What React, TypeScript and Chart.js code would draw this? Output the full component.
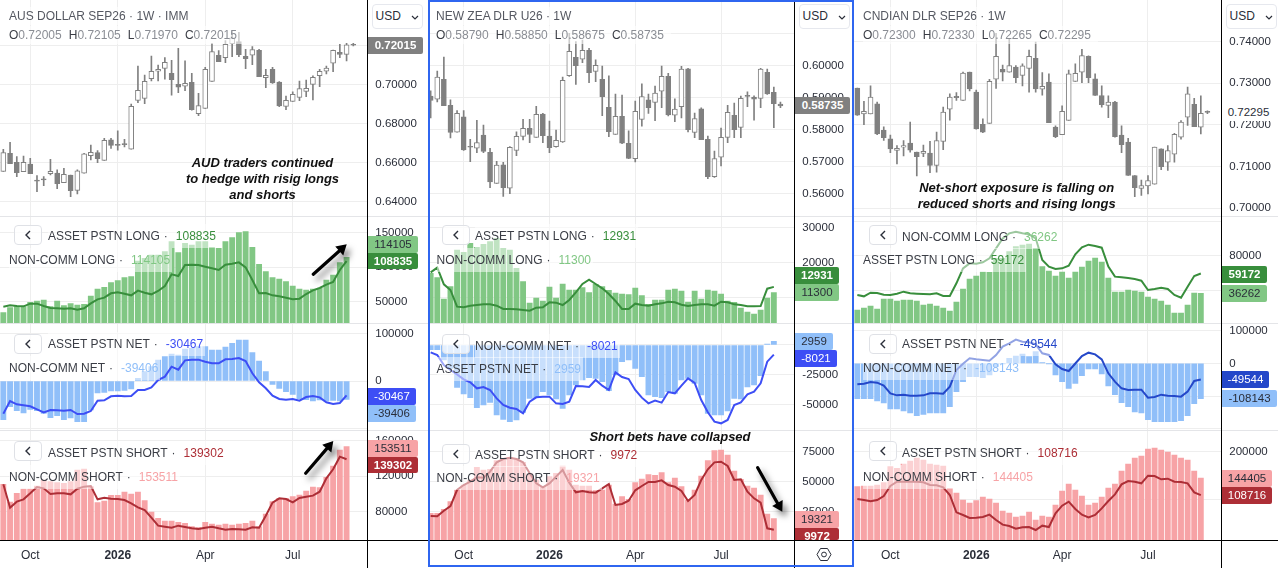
import { useEffect, useRef } from "react";
import { Chart, registerables } from "chart.js";

Chart.register(...registerables);

const FONT = '"Liberation Sans", Arial, sans-serif';

const weeks = Array.from({ length: 54 }, (_, i) => i);
const dateNames = ["Oct", "2026", "Apr", "Jul"];
const audDateTicks = [4, 17, 30, 43];
const otherDateTicks = [5, 18, 31, 44];

// AUS DOLLAR
const audOpen = [.6554,.6646,.6600,.6552,.6591,.6505,.6511,.6542,.6545,.6496,.6535,.6456,.6544,.6634,.6650,.6610,.6715,.6688,.6692,.6667,.6918,.6928,.7029,.7067,.7082,.7056,.7000,.6990,.7010,.6850,.6877,.7015,.7149,.7137,.7209,.7219,.7144,.7149,.7174,.7034,.7077,.7012,.6887,.6913,.6933,.6964,.7000,.7044,.7067,.7108,.7164,.7154,.72005];
const audHigh = [.6667,.6703,.6629,.6632,.6620,.6532,.6527,.6615,.6561,.6569,.6535,.6561,.6646,.6689,.6660,.6723,.6723,.6761,.6718,.6899,.7094,.7048,.7145,.7099,.7137,.7123,.7185,.7120,.7056,.6954,.7087,.7210,.7173,.7224,.7270,.7267,.7180,.7193,.7180,.7077,.7087,.7014,.6940,.6962,.7017,.7022,.7043,.7077,.7094,.7176,.7205,.7210,.72105];
const audLow = [.6554,.6593,.6526,.6552,.6542,.6450,.6480,.6535,.6465,.6496,.6424,.6438,.6544,.6612,.6598,.6610,.6672,.6663,.6679,.6667,.6906,.6901,.7017,.7017,.7027,.6945,.6957,.6968,.6867,.6839,.6877,.7015,.7116,.7111,.7142,.7142,.7080,.7101,.7039,.6983,.7005,.6885,.6870,.6913,.6916,.6937,.6920,.6988,.7053,.7065,.7137,.7120,.71970];
const audClose = [.6650,.6593,.6547,.6600,.6542,.6504,.6510,.6554,.6491,.6538,.6455,.6556,.6643,.6651,.6619,.6713,.6687,.6687,.6691,.6887,.6969,.7015,.7067,.7077,.7113,.7024,.6985,.7005,.6870,.6891,.7077,.7168,.7116,.7205,.7239,.7152,.7132,.7178,.7039,.7046,.7007,.6889,.6918,.6949,.6978,.6980,.7036,.7067,.7084,.7174,.7154,.7202,.72015];
const audLongBars = [34060,41300,42750,42750,49030,50970,52420,42750,50970,44200,47100,45170,46140,58210,68350,70770,77530,80430,84780,86230,108930,112790,117620,117620,122450,136940,121000,134530,132110,136940,136940,128730,127280,136940,142740,149980,151430,128730,104100,93470,84780,82840,78980,72700,68350,66900,68350,69320,81400,88640,106510,114105];
const audLongLine = [42750,44690,43720,43240,47100,47100,43720,40820,40340,39860,40340,38410,40340,47590,53380,55800,62080,63520,61590,59180,65940,63040,60630,65460,72700,89610,87190,103130,103610,103130,100720,98300,95890,103610,105060,106990,99750,81400,62080,62560,59180,57730,55800,53380,54350,61110,66420,69800,74630,78500,95890,108835];
const audNetBars = [-82240,-54590,-63100,-68060,-60260,-63100,-68770,-77990,-73740,-82240,-78700,-86500,-86500,-61680,-25520,-24110,-21270,-21270,-19850,-17020,5670,19850,30490,44670,51760,57430,55300,68060,69480,73030,73030,65940,65940,72320,80120,87210,87210,60270,42540,19850,-7090,-15600,-22690,-28360,-38290,-39700,-42540,-40410,-42540,-41120,-42540,-39406];
const audNetLine = [-69480,-42540,-49630,-51760,-53880,-60260,-66650,-61680,-62390,-63100,-61680,-70190,-69480,-63810,-41830,-41120,-32610,-31200,-32610,-31900,-19140,-19140,-13470,2130,9220,30490,24110,43960,45380,45380,41120,37580,37580,46090,46790,48920,42540,16310,-2840,-15600,-31200,-38290,-39700,-38290,-41830,-34030,-31900,-34740,-45380,-48920,-46790,-30467];
const audShortBars = [110910,90930,100740,105640,105640,109030,115820,113930,112800,112050,113930,127130,128260,108280,90180,92060,98470,98470,102240,99980,102240,92440,79620,72460,69440,69440,67940,66800,63040,61900,67940,66050,64920,66050,64920,66050,66800,69440,63040,77360,91310,95080,95080,96970,98850,103370,107900,107140,118830,131650,149750,153511];
const audShortLine = [110910,84520,91310,93950,100740,107900,106390,99980,100740,100740,99600,106010,108280,109030,93950,95830,94700,94330,93200,89430,84900,81890,73210,64170,63040,61900,64170,62660,61150,60400,61900,63040,61150,59640,60400,60020,59640,62280,61900,75480,90180,95080,94330,90560,95460,96970,98100,102620,117700,127880,142210,139302];

// NEW ZEA DLR
const nzdOpen = [.5904,.5894,.5956,.5875,.5791,.5839,.5745,.5741,.5782,.5728,.5631,.5689,.5616,.5734,.5778,.5803,.5775,.5848,.5779,.5746,.5761,.5968,.6025,.6019,.6047,.5981,.5956,.5869,.5784,.5841,.5756,.5708,.5831,.5892,.5884,.5919,.5966,.5844,.5871,.5989,.5790,.5864,.5769,.5652,.5713,.5775,.5844,.5806,.5904,.5901,.5897,.5978,.5916,.58790];
const nzdHigh = [.5920,.5982,.6026,.5892,.5859,.5859,.5769,.5828,.5813,.5741,.5700,.5697,.5746,.5792,.5831,.5831,.5872,.5850,.5826,.5798,.5963,.6100,.6074,.6079,.6053,.6017,.5998,.5967,.5910,.5907,.5795,.5888,.5942,.5910,.5935,.5998,.5975,.5895,.5997,.5991,.5851,.5867,.5779,.5732,.5804,.5875,.5882,.5904,.5917,.5905,.5991,.5988,.5932,.58850];
const nzdLow = [.5836,.5886,.5874,.5773,.5791,.5734,.5699,.5727,.5727,.5618,.5631,.5590,.5599,.5718,.5767,.5758,.5775,.5758,.5727,.5744,.5759,.5965,.5940,.6008,.5946,.5949,.5843,.5777,.5784,.5755,.5708,.5698,.5810,.5850,.5827,.5868,.5842,.5824,.5836,.5792,.5774,.5768,.5646,.5650,.5686,.5758,.5774,.5774,.5871,.5829,.5868,.5909,.5805,.58675];
const nzdClose = [.5890,.5963,.5874,.5790,.5850,.5736,.5744,.5759,.5731,.5636,.5688,.5618,.5744,.5778,.5803,.5784,.5847,.5780,.5743,.5766,.5953,.6044,.5999,.6047,.5977,.6000,.5902,.5793,.5841,.5757,.5709,.5856,.5902,.5868,.5913,.5966,.5845,.5863,.5988,.5799,.5834,.5768,.5652,.5709,.5775,.5853,.5799,.5897,.5903,.5894,.5988,.5911,.5880,.58735];
const nzdLongBars = [16830,15580,9420,12980,23560,22880,25480,24330,25190,25960,26920,24040,23560,18270,14420,8270,9710,8850,12880,9710,13750,12020,12020,12690,11250,13650,12980,11920,11150,10870,10670,12600,10380,7890,9130,9130,12020,12310,11730,8560,11730,9420,12020,11730,10870,8850,8460,6830,5670,5100,6250,9710,11300];
const nzdLongLine = [17120,18460,13650,12020,7210,7020,7500,7690,7880,7880,7500,6540,6540,6440,6250,6060,6920,7020,8460,8370,7690,9130,11350,13750,15000,13750,12500,10870,8850,6540,6540,8080,7690,7500,7880,8170,8650,8460,7790,7400,7690,7880,7880,7500,8650,8460,7880,7690,7310,7310,7400,12400,12931];
const nzdNetBars = [-3890,-3890,-12500,-19450,-35280,-40840,-43890,-52230,-50000,-47780,-58340,-61950,-63890,-62510,-56120,-44450,-43890,-38890,-41670,-45000,-52780,-41670,-33340,-29170,-27220,-27780,-30560,-38060,-25000,-13890,-12500,-19450,-26390,-41670,-43060,-43890,-38890,-40280,-29170,-27780,-31950,-41670,-56950,-58340,-58340,-55000,-44450,-45000,-35000,-33340,-25560,830,2959];
const nzdNetLine = [-6110,-8330,-16670,-20840,-24450,-28610,-31110,-36110,-35000,-37500,-44450,-50000,-52230,-53340,-56950,-47230,-43610,-43060,-43060,-48610,-49170,-47230,-34170,-34450,-35000,-29170,-33890,-37500,-22780,-26670,-28340,-37500,-43890,-48610,-46390,-48060,-39170,-40280,-33890,-27780,-31670,-45840,-56120,-63890,-65280,-62510,-50000,-47780,-41110,-38890,-31950,-13890,-8021];
const nzdShortBars = [23610,23610,26940,33330,43060,47220,51390,61950,59730,60280,67500,68060,70280,69450,66110,56950,51390,45840,54170,56950,63060,59730,47220,46390,46390,42500,43060,47220,31390,37500,35280,49170,52220,55840,55280,57500,49170,53060,45840,34720,43060,54720,67500,75840,76390,72230,58890,51950,46390,44720,38890,23060,19321];
const nzdShortLine = [21390,21110,25830,29720,43060,47220,50000,53610,53340,58340,66110,68890,70000,68890,66110,56950,48610,45280,48610,54170,59730,49170,41110,42220,41110,40830,44450,48060,30560,31390,34170,42780,46390,49720,49720,51110,47220,45840,42220,33890,38890,51390,60280,66110,66670,63060,51390,51950,41670,36110,32500,11110,9972];

// CNDIAN DLR
const cadOpen = [.7288,.7226,.7226,.7250,.7187,.7166,.7138,.7146,.7156,.7134,.7131,.7132,.7102,.7160,.7237,.7268,.7258,.7326,.7278,.7201,.7203,.7309,.7333,.7326,.7338,.7318,.7335,.7359,.7285,.7302,.7194,.7176,.7210,.7304,.7326,.7364,.7310,.7270,.7246,.7254,.7175,.7158,.7078,.7047,.7053,.7057,.7142,.7110,.7129,.7170,.7218,.7249,.7194,.72300];
const cadHigh = [.7288,.7256,.7293,.7254,.7195,.7175,.7150,.7162,.7206,.7134,.7151,.7160,.7182,.7242,.7274,.7277,.7326,.7326,.7283,.7214,.7309,.7419,.7343,.7405,.7342,.7346,.7379,.7398,.7325,.7322,.7197,.7245,.7331,.7346,.7381,.7365,.7322,.7293,.7269,.7256,.7197,.7167,.7078,.7067,.7078,.7146,.7142,.7150,.7179,.7210,.7290,.7263,.7269,.72330];
const cadLow = [.7222,.7200,.7226,.7176,.7162,.7133,.7106,.7125,.7134,.7077,.7123,.7085,.7086,.7140,.7211,.7258,.7258,.7281,.7189,.7181,.7203,.7287,.7305,.7326,.7301,.7293,.7278,.7278,.7271,.7205,.7169,.7176,.7210,.7304,.7301,.7301,.7270,.7242,.7217,.7170,.7133,.7078,.7027,.7030,.7034,.7057,.7092,.7090,.7110,.7165,.7198,.7195,.7178,.72265];
const cadClose = [.7223,.7232,.7266,.7178,.7169,.7142,.7143,.7150,.7139,.7123,.7136,.7102,.7162,.7230,.7266,.7265,.7324,.7286,.7190,.7182,.7304,.7364,.7326,.7342,.7313,.7341,.7364,.7286,.7292,.7205,.7171,.7232,.7322,.7323,.7366,.7313,.7270,.7248,.7254,.7171,.7152,.7078,.7049,.7054,.7066,.7146,.7099,.7138,.7177,.7206,.7274,.7195,.7227,.72295];
const cadLongBars = [16760,19080,21410,17920,29560,29560,27230,28400,28400,27230,22580,23740,21410,19080,15590,26070,41200,52840,56330,60990,60600,76900,76900,84660,90480,92420,93580,88540,67200,62150,56330,60990,54000,60990,66810,73790,77280,72630,54000,37710,37710,40040,38870,37710,31890,29560,27230,22580,13260,13260,22580,36540,36262];
const cadLongLine = [34220,32660,36930,36540,34600,34220,35770,38100,36160,35770,35380,34990,36160,33050,33050,47800,65260,71080,70690,72240,76900,88540,100180,106000,107940,106000,104830,100180,74960,67200,64480,65260,68360,81550,89700,92800,91250,89310,67200,55560,54780,54000,52840,50900,40040,41200,42750,41200,34220,31110,43920,56330,59172];
const cadNetBars = [-108120,-108120,-108120,-115260,-121380,-139740,-139740,-145860,-151980,-160140,-156060,-151980,-151980,-151980,-132600,-86700,-56100,-40800,-40800,-43860,-35700,-10200,-1000,15300,22440,28560,20400,35700,2040,-500,-35700,-56100,-76500,-61200,-37740,-17340,-17340,-32640,-69360,-95880,-120360,-132600,-148920,-151980,-172380,-178500,-178500,-178500,-178500,-175440,-160140,-123420,-108143];
const cadNetLine = [-64260,-62220,-57120,-59160,-68340,-91800,-97920,-95880,-98940,-98940,-97920,-91800,-91800,-92820,-71400,-20400,-1000,15300,12240,10200,8160,25500,51000,61200,72420,66300,64260,58140,30600,25500,-3060,-17340,-23460,-500,22440,32640,27540,12240,-30600,-56100,-76500,-81600,-80580,-80580,-105060,-103020,-95880,-98940,-99960,-102000,-86700,-54060,-49544];
const cadShortBars = [126500,127900,127900,130000,134900,168500,165000,174100,180400,186700,182500,174100,172000,169900,123000,113200,98500,92200,97100,104800,100600,92200,75400,71200,62800,64900,73300,56500,64900,62800,88000,117400,132100,119500,106900,88000,92200,104800,123700,132100,159400,174100,186700,190900,205600,207700,203500,199300,193000,186700,182500,159400,144405];
const cadShortLine = [100600,98500,95700,98500,106900,127900,137000,137000,137000,137000,135600,130000,129300,125100,109000,72600,67000,60700,61400,62800,67700,56500,46700,43900,38300,41100,41800,35500,44600,41800,70500,86600,95000,79600,67700,62100,67000,81000,96400,110400,131400,138400,137000,133500,149600,148900,141900,143300,137000,136300,133500,114600,108716];

const CANDLE = "#808080";
const GREEN_BAR = "#81c784";
const GREEN_LINE = "#388e3c";
const BLUE_BAR = "#90bff9";
const BLUE_LINE = "#3d4ef5";
const DEEP_BLUE = "#2447c9";
const RED_BAR = "#f7a3a6";
const RED_LINE = "#ad2e36";
const GRID = "#eeeeee";
const TEXT = "#3a3d45";

const candleSets = (open: number[], high: number[], low: number[], close: number[]) => [
  {
    type: "bar",
    data: low.map((l, i) => [l, high[i]]),
    backgroundColor: CANDLE,
    barThickness: 1,
    grouped: false,
    order: 2,
  },
  {
    type: "bar",
    data: open.map((o, i) => [o, close[i]]),
    backgroundColor: open.map((o, i) => (close[i] - o > 0.0003 ? "#ffffff" : CANDLE)),
    borderColor: CANDLE,
    borderWidth: 1,
    borderSkipped: false,
    barThickness: 5,
    minBarLength: 1,
    grouped: false,
    order: 1,
  },
];

const studySets = (bars: number[], line: number[], barColor: string, lineColor: string) => [
  {
    type: "line",
    data: line,
    borderColor: lineColor,
    borderWidth: 2,
    pointRadius: 0,
    tension: 0,
    order: 0,
  },
  {
    type: "bar",
    data: bars,
    backgroundColor: barColor,
    barThickness: 5.2,
    order: 1,
  },
];

interface PaneProps {
  left: number;
  top: number;
  width: number;
  height: number;
  axisWidth: number;
  xMin: number;
  xMax: number;
  yMin: number;
  yMax: number;
  yTicks: number[];
  hidden?: number[];
  digits?: number;
  dateTicks: number[];
  showDates?: boolean;
  datasets: any[];
}

const Pane = (props: PaneProps) => {
  const chartRef = useRef<HTMLCanvasElement | null>(null);
  const { left, top, width, height } = props;

  useEffect(() => {
    if (!chartRef.current) return;
    const { axisWidth, xMin, xMax, yMin, yMax, yTicks, hidden = [], digits = 0, dateTicks, showDates, datasets } = props;
    const chart = new Chart(chartRef.current, {
      data: { labels: weeks, datasets },
      options: {
        animation: false,
        responsive: false,
        maintainAspectRatio: false,
        layout: { padding: 0 },
        plugins: { legend: { display: false }, tooltip: { enabled: false } },
        scales: {
          x: {
            type: "linear",
            offset: false,
            min: xMin,
            max: xMax,
            afterBuildTicks: (axis: any) => {
              axis.ticks = dateTicks.map((value) => ({ value }));
            },
            afterFit: (axis: any) => {
              axis.height = showDates ? 28 : 0;
              axis.paddingLeft = 0;
              axis.paddingRight = 0;
            },
            grid: { color: GRID, drawTicks: false, offset: false },
            border: { display: false },
            ticks: {
              display: !!showDates,
              autoSkip: false,
              maxRotation: 0,
              padding: 8,
              color: "#2a2e39",
              font: (ctx: any) => ({
                family: FONT,
                size: 12,
                weight: ctx.tick && ctx.tick.label === "2026" ? "bold" : "normal",
              }),
              callback: (value: any) => dateNames[dateTicks.indexOf(value)],
            },
          },
          y: {
            type: "linear",
            position: "right",
            min: yMin,
            max: yMax,
            afterBuildTicks: (axis: any) => {
              axis.ticks = yTicks.map((value) => ({ value }));
            },
            afterFit: (axis: any) => {
              axis.width = axisWidth;
              axis.paddingTop = 0;
              axis.paddingBottom = 0;
            },
            grid: { color: GRID, drawTicks: false },
            border: { display: false },
            ticks: {
              padding: 8,
              color: "#2a2e39",
              font: { family: FONT, size: 11.5 },
              callback: (value: any) => (hidden.includes(value) ? "" : Number(value).toFixed(digits)),
            },
          },
        },
      } as any,
    });
    return () => chart.destroy();
  }, []);

  return (
    <canvas
      ref={chartRef}
      width={width}
      height={height}
      style={{ position: "absolute", left, top, width, height }}
    />
  );
};

const Tag = ({ left, right, top, bg, color = "#2a2e39", bold = false, height = 16.7, text }: any) => (
  <div
    style={{
      position: "absolute",
      left,
      top,
      width: right - left,
      height,
      overflow: "hidden",
      background: bg,
      color,
      fontWeight: bold ? "bold" : "normal",
      fontSize: 11.5,
      lineHeight: "16.7px",
      textAlign: "center",
      borderRadius: "0 2px 2px 0",
    }}
  >
    {text}
  </div>
);

const LegendButton = ({ left, top }: any) => (
  <div
    style={{
      position: "absolute",
      left,
      top,
      width: 28,
      height: 20,
      boxSizing: "border-box",
      background: "rgba(255,255,255,0.75)",
      border: "1px solid #dfe1e6",
      borderRadius: 4,
    }}
  >
    <svg width="26" height="18" style={{ display: "block" }}>
      <path d="M15 5 L11 9 L15 13" fill="none" stroke="#2a2e39" strokeWidth="1.4" />
    </svg>
  </div>
);

const LegendRow = ({ left, center, name, value, color, gap = 8 }: any) => (
  <div
    style={{
      position: "absolute",
      left,
      top: center - 12,
      height: 24,
      lineHeight: "24px",
      whiteSpace: "nowrap",
      fontSize: 12,
      color: TEXT,
      background: "rgba(255,255,255,0.5)",
      paddingRight: 2,
    }}
  >
    {name}
    <span style={{ margin: `0 ${gap}px 0 4px` }}>·</span>
    <span style={{ color }}>{value}</span>
  </div>
);

const Legend = ({ buttonLeft, buttonTop, first, second }: any) => (
  <>
    <LegendRow {...first} />
    <LegendRow {...second} />
    <LegendButton left={buttonLeft} top={buttonTop} />
  </>
);

const Header = ({ left, title, o, h, l, c }: any) => (
  <>
    <div style={{ position: "absolute", left, top: 7, height: 18, lineHeight: "18px", fontSize: 12, color: "#555861", whiteSpace: "nowrap", background: "rgba(255,255,255,0.6)" }}>
      {title}
    </div>
    <div style={{ position: "absolute", left, top: 26, height: 18, lineHeight: "18px", fontSize: 12, color: "#8a8d94", whiteSpace: "nowrap", background: "rgba(255,255,255,0.6)" }}>
      {[["O", o], ["H", h], ["L", l], ["C", c]].map(([k, v]) => (
        <span key={k} style={{ marginRight: 7 }}>
          <span style={{ color: "#3a3d45" }}>{k}</span>
          {v}
        </span>
      ))}
    </div>
  </>
);

const Usd = ({ left }: any) => (
  <div
    style={{
      position: "absolute",
      left,
      top: 4,
      width: 51,
      height: 25,
      boxSizing: "border-box",
      border: "1px solid #e6e8ee",
      borderRadius: 4,
      background: "#fff",
      fontSize: 12,
      lineHeight: "23px",
      paddingLeft: 3,
      color: "#2a2e39",
    }}
  >
    USD
    <svg width="8" height="6" style={{ position: "absolute", right: 3, top: 10 }}>
      <path d="M1 1 L4 4 L7 1" fill="none" stroke="#2a2e39" strokeWidth="1.2" />
    </svg>
  </div>
);

const Note = ({ center, top, lines }: any) => (
  <div
    style={{
      position: "absolute",
      left: center - 130,
      top,
      width: 260,
      textAlign: "center",
      fontSize: 13,
      lineHeight: "16px",
      fontWeight: "bold",
      fontStyle: "italic",
      color: "#111",
    }}
  >
    {lines.map((line: string) => (
      <div key={line}>{line}</div>
    ))}
  </div>
);

const Arrow = ({ x1, y1, x2, y2 }: any) => {
  const angle = Math.atan2(y2 - y1, x2 - x1);
  const bx = x2 - 10 * Math.cos(angle);
  const by = y2 - 10 * Math.sin(angle);
  const px = 6 * Math.cos(angle + Math.PI / 2);
  const py = 6 * Math.sin(angle + Math.PI / 2);
  return (
    <g style={{ filter: "drop-shadow(4px 5px 3px rgba(0,0,0,0.5))" }}>
      <line x1={x1} y1={y1} x2={bx} y2={by} stroke="#000" strokeWidth="3.2" strokeLinecap="round" />
      <polygon points={`${x2},${y2} ${bx + px},${by + py} ${bx - px},${by - py}`} fill="#000" />
    </g>
  );
};

const Line = ({ left, top, width, height, color }: any) => (
  <div style={{ position: "absolute", left, top, width, height, background: color }} />
);

const App = () => {
  const col1 = { left: 0, width: 427, axisWidth: 59.7, xMin: -0.495, xMax: 54.08, dateTicks: audDateTicks };
  const col2 = { left: 428, width: 425, axisWidth: 58.7, xMin: -0.404, xMax: 55.1, dateTicks: otherDateTicks };
  const col3 = { left: 853, width: 425, axisWidth: 56.7, xMin: -0.656, xMax: 55.1, dateTicks: otherDateTicks };

  return (
    <div style={{ position: "relative", width: 1278, height: 568, overflow: "hidden", background: "#fff", fontFamily: FONT }}>
      <style>{"body{margin:0;overflow:hidden}"}</style>

      <Pane {...col1} top={0} height={216} yMin={0.63248} yMax={0.74325} digits={5} yTicks={[0.64, 0.66, 0.68, 0.7, 0.72]} hidden={[0.72]} datasets={candleSets(audOpen, audHigh, audLow, audClose)} />
      <Pane {...col1} top={216} height={108} yMin={17640} yMax={174130} yTicks={[50000, 100000, 150000]} datasets={studySets(audLongBars, audLongLine, GREEN_BAR, GREEN_LINE)} />
      <Pane {...col1} top={324} height={107} yMin={-106350} yMax={121240} yTicks={[-100000, 0, 100000]} hidden={[-100000]} datasets={studySets(audNetBars, audNetLine, BLUE_BAR, BLUE_LINE)} />
      <Pane {...col1} top={431} height={137} showDates yMin={47955} yMax={171230} yTicks={[80000, 120000, 160000]} datasets={studySets(audShortBars, audShortLine, RED_BAR, RED_LINE)} />

      <Pane {...col2} top={0} height={216} yMin={0.55292} yMax={0.62042} digits={5} yTicks={[0.56, 0.57, 0.58, 0.59, 0.6, 0.61]} hidden={[0.61]} datasets={candleSets(nzdOpen, nzdHigh, nzdLow, nzdClose)} />
      <Pane {...col2} top={216} height={108} yMin={2212} yMax={33365} yTicks={[10000, 20000, 30000]} hidden={[10000]} datasets={studySets(nzdLongBars, nzdLongLine, GREEN_BAR, GREEN_LINE)} />
      <Pane {...col2} top={324} height={107} yMin={-71670} yMax={17500} yTicks={[-50000, -25000, 0]} hidden={[0]} datasets={studySets(nzdNetBars, nzdNetLine, BLUE_BAR, BLUE_LINE)} />
      <Pane {...col2} top={431} height={137} showDates yMin={1390} yMax={92230} yTicks={[25000, 50000, 75000]} datasets={studySets(nzdShortBars, nzdShortLine, RED_BAR, RED_LINE)} />

      <Pane {...col3} top={0} height={216} yMin={0.69808} yMax={0.74992} digits={5} yTicks={[0.7, 0.71, 0.72, 0.73, 0.74]} datasets={candleSets(cadOpen, cadHigh, cadLow, cadClose)} />
      <Pane {...col3} top={216} height={108} yMin={460} yMax={126170} yTicks={[40000, 80000, 120000]} hidden={[40000, 120000]} datasets={studySets(cadLongBars, cadLongLine, GREEN_BAR, GREEN_LINE)} />
      <Pane {...col3} top={324} height={107} yMin={-207060} yMax={120360} yTicks={[-200000, -100000, 0, 100000]} hidden={[-200000, -100000]} datasets={studySets(cadNetBars, cadNetLine, BLUE_BAR, DEEP_BLUE)} />
      <Pane {...col3} top={431} height={137} showDates yMin={14500} yMax={243400} yTicks={[100000, 200000]} hidden={[100000]} datasets={studySets(cadShortBars, cadShortLine, RED_BAR, RED_LINE)} />

      {/* pane separators and axis rules */}
      {[216, 323, 430].map((y) => (
        <Line key={y} left={0} top={y} width={1278} height={1} color="#e4e5e8" />
      ))}
      <Line left={0} top={540} width={1278} height={1} color="#000" />
      <Line left={367} top={0} width={1} height={568} color="#000" />
      <Line left={794} top={0} width={1} height={568} color="#000" />
      <Line left={1221} top={0} width={1} height={568} color="#000" />

      <Header left={9} title="AUS DOLLAR SEP26 · 1W · IMM" o="0.72005" h="0.72105" l="0.71970" c="0.72015" />
      <Header left={436} title="NEW ZEA DLR U26 · 1W" o="0.58790" h="0.58850" l="0.58675" c="0.58735" />
      <Header left={863} title="CNDIAN DLR SEP26 · 1W" o="0.72300" h="0.72330" l="0.72265" c="0.72295" />
      <Usd left={371.5} />
      <Usd left={798.5} />
      <Usd left={1225.5} />

      <Legend buttonLeft={14} buttonTop={225}
        first={{ left: 48, center: 236, name: "ASSET PSTN LONG", value: "108835", color: GREEN_LINE }}
        second={{ left: 9, center: 260, name: "NON-COMM LONG", value: "114105", color: GREEN_BAR }} />
      <Legend buttonLeft={14} buttonTop={334}
        first={{ left: 48, center: 344, name: "ASSET PSTN NET", value: "-30467", color: BLUE_LINE }}
        second={{ left: 9, center: 368, name: "NON-COMM NET", value: "-39406", color: BLUE_BAR }} />
      <Legend buttonLeft={14} buttonTop={441}
        first={{ left: 48, center: 453, name: "ASSET PSTN SHORT", value: "139302", color: RED_LINE }}
        second={{ left: 9, center: 477, name: "NON-COMM SHORT", value: "153511", color: RED_BAR }} />

      <Legend buttonLeft={441.5} buttonTop={225}
        first={{ left: 475, center: 236, name: "ASSET PSTN LONG", value: "12931", color: GREEN_LINE }}
        second={{ left: 436.5, center: 260, name: "NON-COMM LONG", value: "11300", color: GREEN_BAR }} />
      <Legend buttonLeft={441.5} buttonTop={334}
        first={{ left: 475, center: 345.5, name: "NON-COMM NET", value: "-8021", color: BLUE_LINE }}
        second={{ left: 436.5, center: 369, name: "ASSET PSTN NET", value: "2959", color: BLUE_BAR }} />
      <Legend buttonLeft={441.5} buttonTop={444}
        first={{ left: 475, center: 454.5, name: "ASSET PSTN SHORT", value: "9972", color: RED_LINE }}
        second={{ left: 436.5, center: 478, name: "NON-COMM SHORT", value: "19321", color: RED_BAR }} />

      <Legend buttonLeft={868.5} buttonTop={225}
        first={{ left: 902, center: 236.5, name: "NON-COMM LONG", value: "36262", color: GREEN_BAR }}
        second={{ left: 863, center: 260, name: "ASSET PSTN LONG", value: "59172", color: GREEN_LINE }} />
      <Legend buttonLeft={868.5} buttonTop={334}
        first={{ left: 902, center: 344, name: "ASSET PSTN NET", value: "-49544", color: DEEP_BLUE }}
        second={{ left: 863, center: 368, name: "NON-COMM NET", value: "-108143", color: BLUE_BAR }} />
      <Legend buttonLeft={868.5} buttonTop={441}
        first={{ left: 902, center: 453, name: "ASSET PSTN SHORT", value: "108716", color: RED_LINE }}
        second={{ left: 863, center: 477, name: "NON-COMM SHORT", value: "144405", color: RED_BAR }} />

      <Tag left={368} right={423} top={37} bg={CANDLE} color="#fff" bold text="0.72015" />
      <Tag left={368} right={418} top={236} bg={GREEN_BAR} text="114105" />
      <Tag left={368} right={418} top={252.7} bg={GREEN_LINE} color="#fff" bold text="108835" />
      <Tag left={368} right={416} top={388.3} bg={BLUE_LINE} color="#fff" text="-30467" />
      <Tag left={368} right={416} top={405} bg={BLUE_BAR} text="-39406" />
      <Tag left={368} right={418} top={440} bg={RED_BAR} text="153511" />
      <Tag left={368} right={418} top={456.7} bg={RED_LINE} color="#fff" bold text="139302" />

      <Tag left={795} right={850} top={97.3} bg={CANDLE} color="#fff" bold text="0.58735" />
      <Tag left={795} right={839} top={267.3} bg={GREEN_LINE} color="#fff" bold text="12931" />
      <Tag left={795} right={839} top={284} bg={GREEN_BAR} text="11300" />
      <Tag left={795} right={833} top={333.3} bg={BLUE_BAR} text="2959" />
      <Tag left={795} right={837} top={350} bg={BLUE_LINE} color="#fff" text="-8021" />
      <Tag left={795} right={839} top={511} bg={RED_BAR} text="19321" />
      <Tag left={795} right={839} top={528.3} height={11.7} bg={RED_LINE} color="#fff" bold text="9972" />

      <Tag left={1222} right={1275} top={104} bg="#fff" text="0.72295" />
      <Tag left={1222} right={1267} top={266} bg={GREEN_LINE} color="#fff" bold text="59172" />
      <Tag left={1222} right={1267} top={285} bg={GREEN_BAR} text="36262" />
      <Tag left={1222} right={1269} top={371} bg={DEEP_BLUE} color="#fff" text="-49544" />
      <Tag left={1222} right={1277} top={390} bg={BLUE_BAR} text="-108143" />
      <Tag left={1222} right={1272} top={470} bg={RED_BAR} text="144405" />
      <Tag left={1222} right={1272} top={487.3} bg={RED_LINE} color="#fff" text="108716" />

      <Note center={262.5} top={155} lines={["AUD traders continued", "to hedge with risig longs", "and shorts"]} />
      <Note center={670} top={429} lines={["Short bets have collapsed"]} />
      <Note center={1016.7} top={180} lines={["Net-short exposure is falling on", "reduced shorts and rising longs"]} />

      <svg width="1278" height="568" style={{ position: "absolute", left: 0, top: 0, pointerEvents: "none" }}>
        <Arrow x1={313.3} y1={274.3} x2={346.7} y2={244.3} />
        <Arrow x1={305.7} y1={473.3} x2={333.3} y2={441} />
        <Arrow x1={757.7} y1={467.7} x2={782.3} y2={511.7} />
        {/* settings icon */}
        <polygon points="817,554.5 820.5,548.5 827.5,548.5 831,554.5 827.5,560.5 820.5,560.5" fill="none" stroke="#2a2e39" strokeWidth="1" />
        <circle cx="824" cy="554.5" r="2.4" fill="none" stroke="#2a2e39" strokeWidth="1" />
      </svg>

      <div style={{ position: "absolute", left: 427.5, top: 0, width: 426, height: 567, boxSizing: "border-box", border: "2.3px solid #2f66f0" }} />
    </div>
  );
};

export default App;
